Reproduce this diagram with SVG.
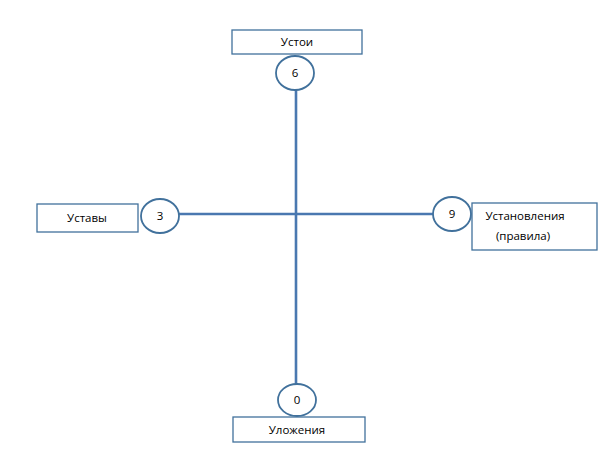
<svg xmlns="http://www.w3.org/2000/svg" width="612" height="458" viewBox="0 0 612 458">
<style>
.box{fill:#fff;stroke:#41719c;stroke-width:1.3}
.circ{fill:#fff;stroke:#41719c;stroke-width:1.8}
.ln{stroke:#4a78b0;stroke-width:2.6;fill:none}
text{font-family:"Open Sans","Liberation Sans",sans-serif;font-size:11.5px;fill:#000;text-anchor:middle}
</style>
<rect width="612" height="458" fill="#fff"/>
<g id="connectors">
<line class="ln" x1="296" y1="90" x2="296" y2="384"/>
<line class="ln" x1="178" y1="214" x2="434" y2="214"/>
</g>
<g id="node-ustoi">
<rect class="box" x="232" y="30" width="130" height="24"/>
<text x="297" y="46">Устои</text>
</g>
<g id="node-6">
<ellipse class="circ" cx="295" cy="73" rx="19" ry="17"/>
<text x="295" y="77">6</text>
</g>
<g id="node-ustavy">
<rect class="box" x="37" y="204" width="101" height="28"/>
<text x="87" y="222">Уставы</text>
</g>
<g id="node-3">
<ellipse class="circ" cx="160" cy="216" rx="19" ry="17"/>
<text x="160" y="220">3</text>
</g>
<g id="node-ustanovleniya">
<rect class="box" x="472" y="203" width="125" height="47"/>
<text x="525" y="220">Установления</text>
<text x="523" y="240">(правила)</text>
</g>
<g id="node-9">
<ellipse class="circ" cx="452" cy="214" rx="19" ry="17"/>
<text x="452" y="218">9</text>
</g>
<g id="node-0">
<ellipse class="circ" cx="297" cy="400" rx="19" ry="16"/>
<text x="297" y="404">0</text>
</g>
<g id="node-ulozheniya">
<rect class="box" x="233" y="417" width="132" height="25"/>
<text x="297" y="434">Уложения</text>
</g>
</svg>
